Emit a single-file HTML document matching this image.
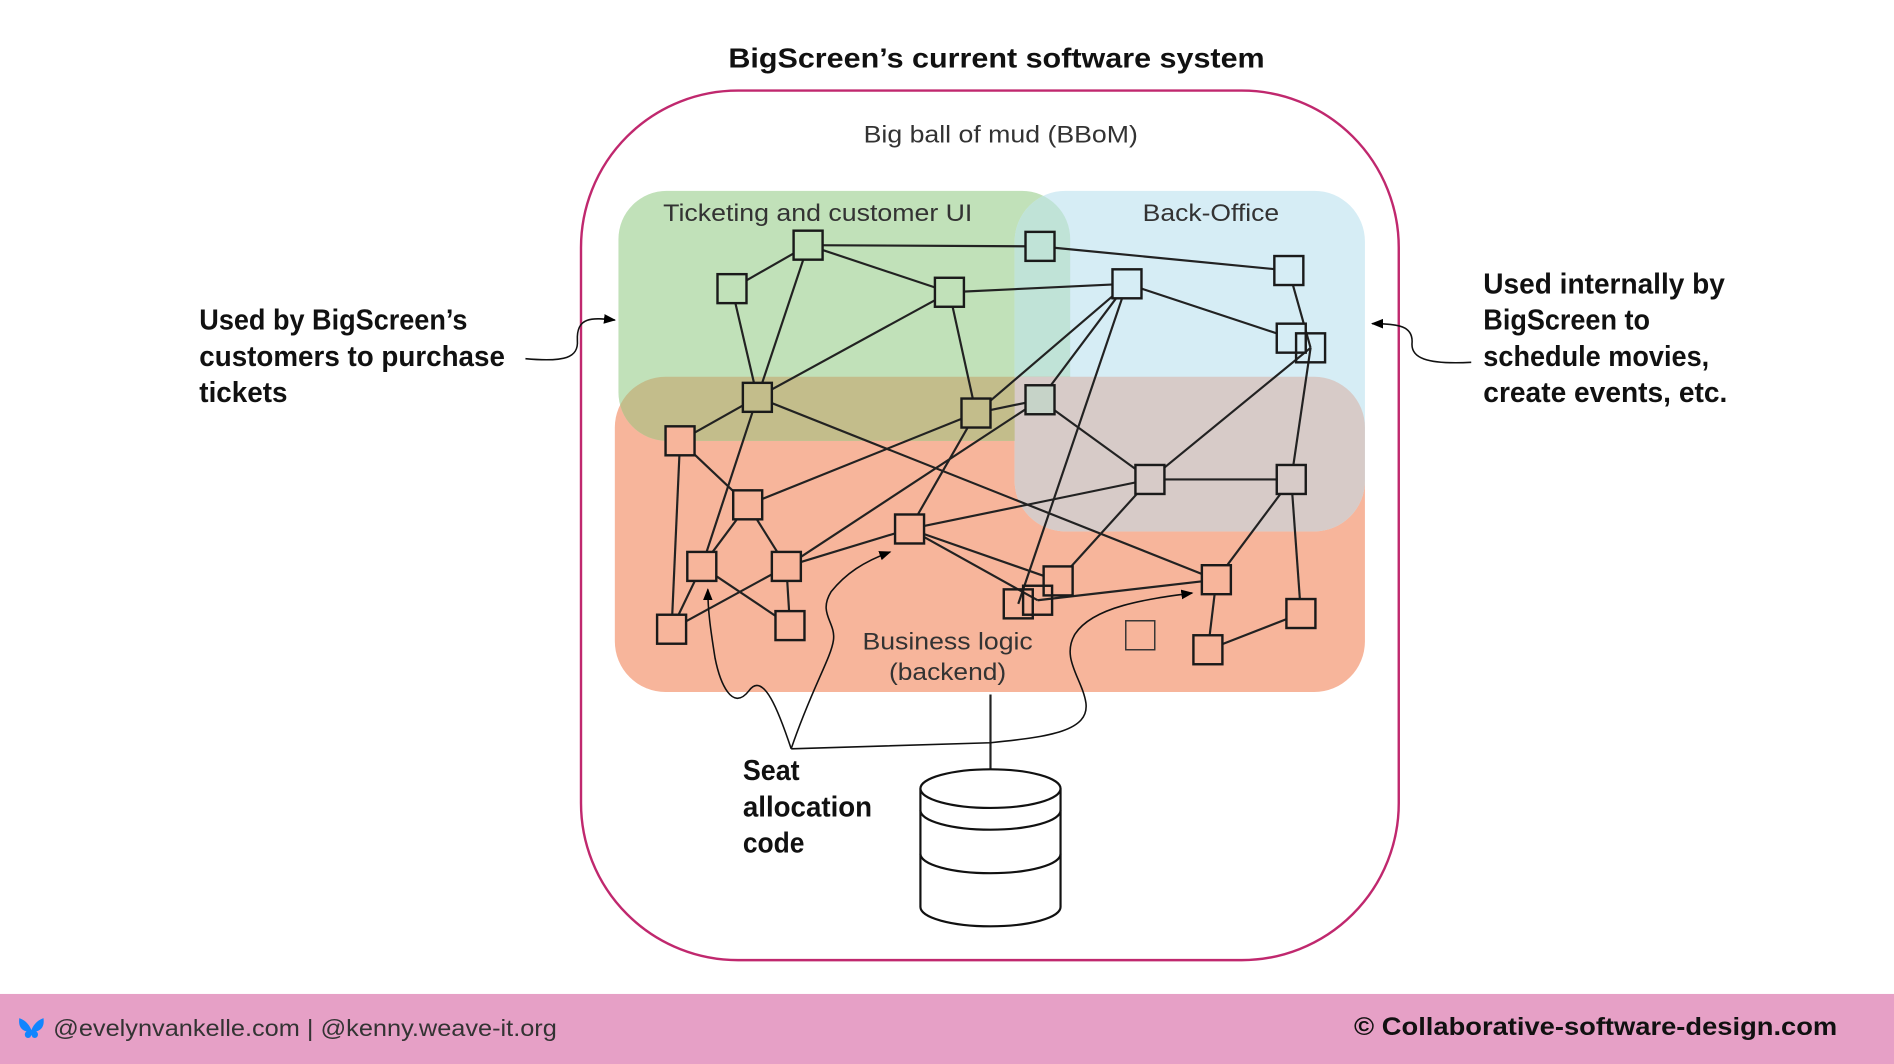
<!DOCTYPE html>
<html><head><meta charset="utf-8"><style>
html,body{margin:0;padding:0;background:#fff;}
svg{display:block;}
</style></head><body>
<svg width="1894" height="1064" viewBox="0 0 1568 881" preserveAspectRatio="none" xmlns="http://www.w3.org/2000/svg" font-family="Liberation Sans, sans-serif">
<defs>
  <clipPath id="cOr"><rect x="509" y="312" width="621" height="261" rx="42"/></clipPath>
  <clipPath id="cBl"><rect x="840" y="158" width="290" height="282" rx="42"/></clipPath>
  <marker id="ah" markerWidth="10" markerHeight="10" refX="9" refY="5" orient="auto" markerUnits="userSpaceOnUse"><path d="M0,1 L10,5 L0,9 z" fill="#000"/></marker>
</defs>
<rect width="1568" height="881" fill="#fff"/>
<text x="603" y="56" font-size="23" font-weight="bold" fill="#111" textLength="444" lengthAdjust="spacingAndGlyphs">BigScreen’s current software system</text>
<rect x="481" y="75" width="677" height="720" rx="130" fill="none" stroke="#c0286e" stroke-width="2"/>
<text x="715" y="118" font-size="20" fill="#333" textLength="227" lengthAdjust="spacingAndGlyphs">Big ball of mud (BBoM)</text>

<rect x="509" y="312" width="621" height="261" rx="42" fill="#f7b59b"/>
<rect x="512" y="158" width="374" height="207" rx="40" fill="#c1e1b9"/>
<rect x="840" y="158" width="290" height="282" rx="42" fill="#d6edf5"/>
<g clip-path="url(#cBl)"><rect x="512" y="158" width="374" height="207" rx="40" fill="#c0e3d7"/></g>
<g clip-path="url(#cOr)">
  <rect x="512" y="158" width="374" height="207" rx="40" fill="#c3bd8b"/>
  <rect x="840" y="158" width="290" height="282" rx="42" fill="#d7cbc8"/>
</g>
<text x="549" y="183" font-size="20" fill="#333" textLength="256" lengthAdjust="spacingAndGlyphs">Ticketing and customer UI</text>
<text x="946" y="183" font-size="20" fill="#333" textLength="113" lengthAdjust="spacingAndGlyphs">Back-Office</text>
<text x="714" y="538" font-size="20" fill="#333" textLength="141" lengthAdjust="spacingAndGlyphs">Business logic</text>
<text x="736" y="563" font-size="20" fill="#333" textLength="97" lengthAdjust="spacingAndGlyphs">(backend)</text>

<g stroke="#222" stroke-width="1.8" fill="none">
<line x1="669" y1="203" x2="606" y2="239"/>
<line x1="669" y1="203" x2="627" y2="329"/>
<line x1="669" y1="203" x2="786" y2="242"/>
<line x1="669" y1="203" x2="861" y2="204"/>
<line x1="861" y1="204" x2="1067" y2="224"/>
<line x1="786" y1="242" x2="933" y2="235"/>
<line x1="786" y1="242" x2="627" y2="329"/>
<line x1="786" y1="242" x2="808" y2="342"/>
<line x1="606" y1="239" x2="627" y2="329"/>
<line x1="933" y1="235" x2="1069" y2="280"/>
<line x1="933" y1="235" x2="808" y2="342"/>
<line x1="933" y1="235" x2="861" y2="331"/>
<line x1="933" y1="235" x2="843" y2="500"/>
<line x1="1067" y1="224" x2="1085" y2="288"/>
<line x1="1085" y1="288" x2="952" y2="397"/>
<line x1="1085" y1="288" x2="1069" y2="397"/>
<line x1="627" y1="329" x2="563" y2="365"/>
<line x1="627" y1="329" x2="581" y2="469"/>
<line x1="627" y1="329" x2="1007" y2="480"/>
<line x1="808" y1="342" x2="861" y2="331"/>
<line x1="808" y1="342" x2="619" y2="418"/>
<line x1="808" y1="342" x2="753" y2="438"/>
<line x1="861" y1="331" x2="651" y2="469"/>
<line x1="861" y1="331" x2="952" y2="397"/>
<line x1="563" y1="365" x2="619" y2="418"/>
<line x1="563" y1="365" x2="556" y2="521"/>
<line x1="619" y1="418" x2="581" y2="469"/>
<line x1="619" y1="418" x2="651" y2="469"/>
<line x1="952" y1="397" x2="1069" y2="397"/>
<line x1="952" y1="397" x2="753" y2="438"/>
<line x1="952" y1="397" x2="876" y2="481"/>
<line x1="1069" y1="397" x2="1007" y2="480"/>
<line x1="1069" y1="397" x2="1077" y2="508"/>
<line x1="753" y1="438" x2="651" y2="469"/>
<line x1="753" y1="438" x2="876" y2="481"/>
<line x1="753" y1="438" x2="859" y2="497"/>
<line x1="859" y1="497" x2="1007" y2="480"/>
<line x1="1007" y1="480" x2="1000" y2="538"/>
<line x1="1000" y1="538" x2="1077" y2="508"/>
<line x1="556" y1="521" x2="581" y2="469"/>
<line x1="556" y1="521" x2="651" y2="469"/>
<line x1="581" y1="469" x2="654" y2="518"/>
<line x1="651" y1="469" x2="654" y2="518"/>
<line x1="820" y1="575" x2="820" y2="637"/>
</g>

<g stroke="#1a1a1a" stroke-width="2">
<rect x="657" y="191" width="24" height="24" fill="#c1e1b9"/>
<rect x="594" y="227" width="24" height="24" fill="#c1e1b9"/>
<rect x="774" y="230" width="24" height="24" fill="#c1e1b9"/>
<rect x="849" y="192" width="24" height="24" fill="#c0e3d7"/>
<rect x="921" y="223" width="24" height="24" fill="#d6edf5"/>
<rect x="1055" y="212" width="24" height="24" fill="#d6edf5"/>
<rect x="1057" y="268" width="24" height="24" fill="#d6edf5"/>
<rect x="1073" y="276" width="24" height="24" fill="none"/>
<rect x="615" y="317" width="24" height="24" fill="#c3bd8b"/>
<rect x="796" y="330" width="24" height="24" fill="#c3bd8b"/>
<rect x="849" y="319" width="24" height="24" fill="#c6d3c8"/>
<rect x="551" y="353" width="24" height="24" fill="#f7b59b"/>
<rect x="940" y="385" width="24" height="24" fill="#d7cbc8"/>
<rect x="1057" y="385" width="24" height="24" fill="#d7cbc8"/>
<rect x="607" y="406" width="24" height="24" fill="#f7b59b"/>
<rect x="741" y="426" width="24" height="24" fill="#f7b59b"/>
<rect x="569" y="457" width="24" height="24" fill="#f7b59b"/>
<rect x="639" y="457" width="24" height="24" fill="#f7b59b"/>
<rect x="864" y="469" width="24" height="24" fill="#f7b59b"/>
<rect x="831" y="488" width="24" height="24" fill="none"/>
<rect x="847" y="485" width="24" height="24" fill="none"/>
<rect x="995" y="468" width="24" height="24" fill="#f7b59b"/>
<rect x="1065" y="496" width="24" height="24" fill="#f7b59b"/>
<rect x="544" y="509" width="24" height="24" fill="#f7b59b"/>
<rect x="642" y="506" width="24" height="24" fill="#f7b59b"/>
<rect x="932" y="514" width="24" height="24" fill="#f7b59b" stroke-width="1.2" stroke="#333"/>
<rect x="988" y="526" width="24" height="24" fill="#f7b59b"/>
</g>

<g stroke="#111" stroke-width="1.3" fill="none">
<path d="M435,297 C468,300 479,296 478,282 C477,262 490,263 509,265" marker-end="url(#ah)"/>
<path d="M1218,300 C1180,302 1168,296 1169,284 C1170,270 1158,268 1136,268" marker-end="url(#ah)"/>
<path d="M655,620 C645,590 632,555 620,572 C606,590 596,565 592,545 C588,520 586,505 586,488" marker-end="url(#ah)"/>
<path d="M655,620 C672,570 688,545 690,530 C692,515 677,508 688,490 C700,475 715,465 737,457" marker-end="url(#ah)"/>
<path d="M655,620 L820,615 C870,610 902,605 899,582 C896,562 878,545 890,525 C905,502 950,496 987,491" marker-end="url(#ah)"/>
</g>

<g stroke="#111" stroke-width="1.8" fill="#fff">
<path d="M762,653 L762,751 A58,16 0 0 0 878,751 L878,653"/>
<ellipse cx="820" cy="653" rx="58" ry="16"/>
<path d="M762,671 A58,16 0 0 0 878,671" fill="none"/>
<path d="M762,707 A58,16 0 0 0 878,707" fill="none"/>
</g>

<g font-family="Liberation Sans Narrow, Liberation Sans, sans-serif" font-weight="bold" font-size="24" fill="#111">
<text x="165" y="273" textLength="222" lengthAdjust="spacingAndGlyphs">Used by BigScreen’s</text>
<text x="165" y="303" textLength="253" lengthAdjust="spacingAndGlyphs">customers to purchase</text>
<text x="165" y="333" textLength="73" lengthAdjust="spacingAndGlyphs">tickets</text>
<text x="1228" y="243" textLength="200" lengthAdjust="spacingAndGlyphs">Used internally by</text>
<text x="1228" y="273" textLength="138" lengthAdjust="spacingAndGlyphs">BigScreen to</text>
<text x="1228" y="303" textLength="187" lengthAdjust="spacingAndGlyphs">schedule movies,</text>
<text x="1228" y="333" textLength="202" lengthAdjust="spacingAndGlyphs">create events, etc.</text>
<text x="615" y="646" textLength="47" lengthAdjust="spacingAndGlyphs">Seat</text>
<text x="615" y="676" textLength="107" lengthAdjust="spacingAndGlyphs">allocation</text>
<text x="615" y="706" textLength="51" lengthAdjust="spacingAndGlyphs">code</text>
</g>

<rect x="0" y="823" width="1568" height="58" fill="#e6a0c6"/>
<path d="M16,843 C22,845 25,850 26,853 C27,850 30,845 36,843 C37,850 34,853 30,854 C33,856 31,861 27,859 L26,857 L25,859 C21,861 19,856 22,854 C18,853 15,850 16,843 z" fill="#1185fe"/>
<text x="44" y="858" font-size="19" fill="#333" textLength="417" lengthAdjust="spacingAndGlyphs">@evelynvankelle.com | @kenny.weave-it.org</text>
<text x="1121" y="857" font-size="21" font-weight="bold" fill="#111" textLength="400" lengthAdjust="spacingAndGlyphs">© Collaborative-software-design.com</text>
</svg>
</body></html>
